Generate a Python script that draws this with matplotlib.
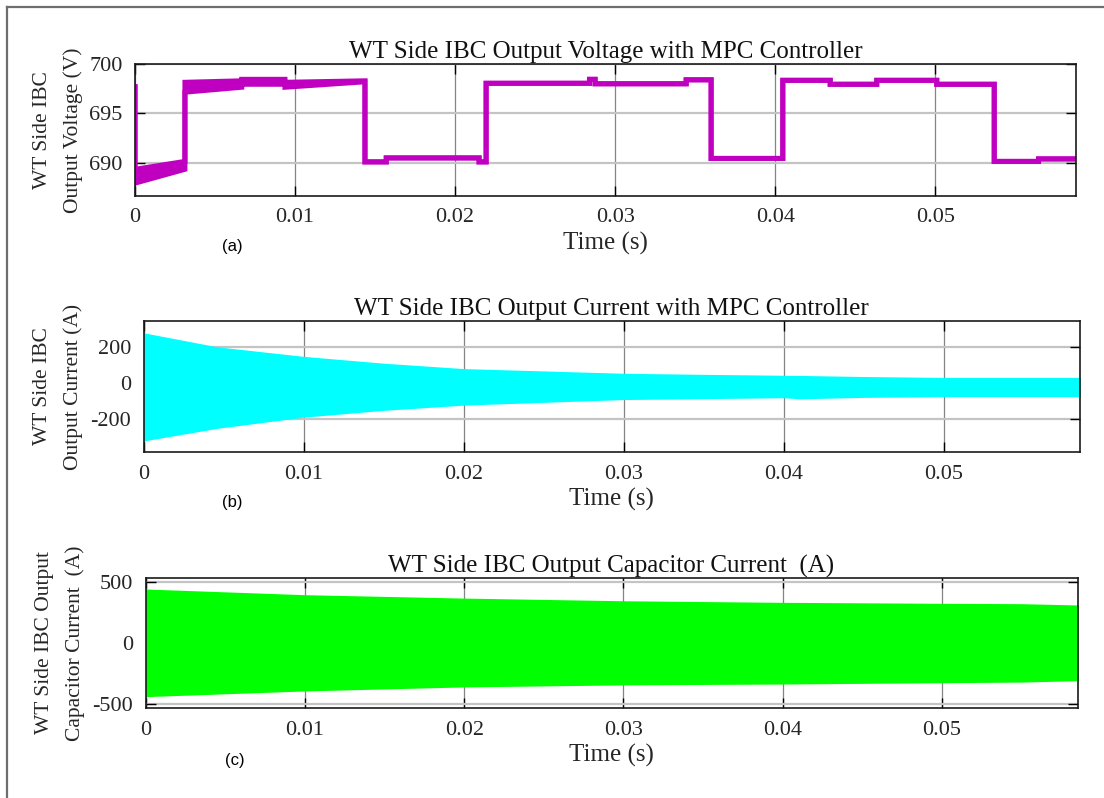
import numpy as np
import matplotlib
matplotlib.use("Agg")
import matplotlib.pyplot as plt
from matplotlib.lines import Line2D

plt.rcParams["axes.unicode_minus"] = False

# ---------------- data ----------------
# (a) output voltage: piecewise segments with a ripple band (lower / upper edge)
v_seg_start = [0.0, 0.00312, 0.00667, 0.00937, 0.01437, 0.0157, 0.0215, 0.02194,
               0.0284, 0.02875, 0.03444, 0.036, 0.04048, 0.04344, 0.04635,
               0.0501, 0.05369, 0.05646]
v_seg_end = v_seg_start[1:] + [0.0588]
v_lo_start = [687.95, 697.15, 697.95, 697.65, 690.1, 690.5, 690.1, 698.05,
              698.45, 698.0, 698.4, 690.45, 698.35, 697.95, 698.35, 697.95,
              690.15, 690.4]
v_lo_end = [689.35, 697.65, 697.95, 698.2, 690.1, 690.5, 690.1, 698.05,
            698.45, 698.0, 698.4, 690.45, 698.35, 697.95, 698.35, 697.95,
            690.15, 690.4]
v_hi_start = [689.35, 698.15, 698.45, 698.15, 690.1, 690.5, 690.1, 698.05,
              698.45, 698.0, 698.4, 690.45, 698.35, 697.95, 698.35, 697.95,
              690.15, 690.4]
v_hi_end = [690.15, 698.3, 698.45, 698.3, 690.1, 690.5, 690.1, 698.05,
            698.45, 698.0, 698.4, 690.45, 698.35, 697.95, 698.35, 697.95,
            690.15, 690.4]
v_initial = 697.7

# (b) output current envelope
i_t = [0.0, 0.0046, 0.01, 0.015, 0.02, 0.03, 0.035, 0.04, 0.041, 0.045, 0.05, 0.0586]
i_upper = [281, 203, 150, 112, 82, 56, 50, 45, 44, 38, 33, 33]
i_lower = [-320, -250, -188, -150, -121, -90, -85, -80, -86, -78, -74, -74]

# (c) output capacitor current envelope
c_t = [0.0, 0.01, 0.02, 0.03, 0.04, 0.05, 0.055, 0.0586]
c_upper = [445, 398, 370, 348, 335, 327, 324, 313]
c_lower = [-442, -395, -362, -345, -338, -327, -322, -310]

x_ticks = [0, 0.01, 0.02, 0.03, 0.04, 0.05]
x_ticklabels = ["0", "0.01", "0.02", "0.03", "0.04", "0.05"]

titles = ["WT Side IBC Output Voltage with MPC Controller",
          "WT Side IBC Output Current with MPC Controller",
          "WT Side IBC Output Capacitor Current  (A)"]
ylabels = ["WT Side IBC\nOutput Voltage (V)",
           "WT Side IBC\nOutput Current (A)",
           "WT Side IBC Output\nCapacitor Current  (A)"]
panel_tags = ["(a)", "(b)", "(c)"]

# ---------------- figure ----------------
W, H = 1104, 798
fig = plt.figure(figsize=(W / 100, H / 100), dpi=100)
serif = "Liberation Serif"
sans = "Liberation Sans"


def px_axes(left, right, top, bottom):
    return fig.add_axes([left / W, 1 - bottom / H, (right - left) / W, (bottom - top) / H])


ax_a = px_axes(135, 1076, 64, 196)
ax_b = px_axes(143.5, 1080, 320.7, 452.3)
ax_c = px_axes(145.5, 1077.5, 577.7, 708.3)
axes = [ax_a, ax_b, ax_c]

# voltage band built as step-wise envelope arrays
tv, lo, hi = [0.0], [v_initial], [v_initial]
for s, e, l0, l1, h0, h1 in zip(v_seg_start, v_seg_end, v_lo_start, v_lo_end,
                                v_hi_start, v_hi_end):
    tv += [s, e]
    lo += [l0, l1]
    hi += [h0, h1]
tv, lo, hi = np.array(tv), np.array(lo), np.array(hi)
mag = "#C000C0"
ax_a.fill_between(tv, lo, hi, color=mag, linewidth=0)
ax_a.plot(tv, lo, color=mag, lw=3.6, solid_joinstyle="miter")
ax_a.plot(tv, hi, color=mag, lw=3.6, solid_joinstyle="miter")

ax_b.fill_between(i_t, i_lower, i_upper, color="#00FFFF", linewidth=0)
ax_c.fill_between(c_t, c_lower, c_upper, color="#00FF00", linewidth=0)

ax_a.set_xlim(0, 0.0588)
ax_a.set_ylim(686.65, 700)
ax_a.set_yticks([690, 695, 700])
ax_b.set_xlim(0, 0.0585)
ax_b.set_ylim(-383, 348)
ax_b.set_yticks([-200, 0, 200])
ax_c.set_xlim(0, 0.0585)
ax_c.set_ylim(-538, 538)
ax_c.set_yticks([-500, 0, 500])

ylabel_x = [0.0525, 0.0525, 0.0545]
for ax, title, ylab, yx in zip(axes, titles, ylabels, ylabel_x):
    ax.set_xticks(x_ticks)
    ax.set_xticklabels(x_ticklabels)
    ax.tick_params(direction="in", length=7, width=1.0, top=True, right=True,
                   labelsize=16, labelcolor="#262626", pad=9)
    for lab in ax.get_xticklabels() + ax.get_yticklabels():
        lab.set_fontfamily(serif)
    for sp in ax.spines.values():
        sp.set_linewidth(1.2)
        sp.set_color("#1a1a1a")
    ax.grid(axis="x", color="#858585", lw=0.9)
    ax.grid(axis="y", color="#c4c4c4", lw=1.6)
    ax.set_axisbelow(True)
    ax.set_title(title, fontfamily=serif, fontsize=18, color="#111111", pad=4)
    ax.set_xlabel("Time (s)", fontfamily=serif, fontsize=18, color="#262626", labelpad=3)
    pos = ax.get_position()
    fig.text(yx, pos.y0 + pos.height / 2, ylab, rotation=90, ha="center",
             va="center", fontfamily=serif, fontsize=15.5, color="#262626",
             linespacing=1.75, multialignment="center")

fig.text(232 / W, 1 - 246 / H, "(a)", fontfamily=sans, fontsize=12, ha="center", va="center")
fig.text(232 / W, 1 - 502 / H, "(b)", fontfamily=sans, fontsize=12, ha="center", va="center")
fig.text(235 / W, 1 - 760 / H, "(c)", fontfamily=sans, fontsize=12, ha="center", va="center")

# outer frame (left and top edges)
fig.add_artist(Line2D([7 / W, 7 / W], [0, 1 - 7 / H], transform=fig.transFigure,
                      color="#6e6e6e", lw=1.6))
fig.add_artist(Line2D([7 / W, 1], [1 - 7 / H, 1 - 7 / H], transform=fig.transFigure,
                      color="#6e6e6e", lw=1.6))

fig.savefig("out.png", dpi=100)
